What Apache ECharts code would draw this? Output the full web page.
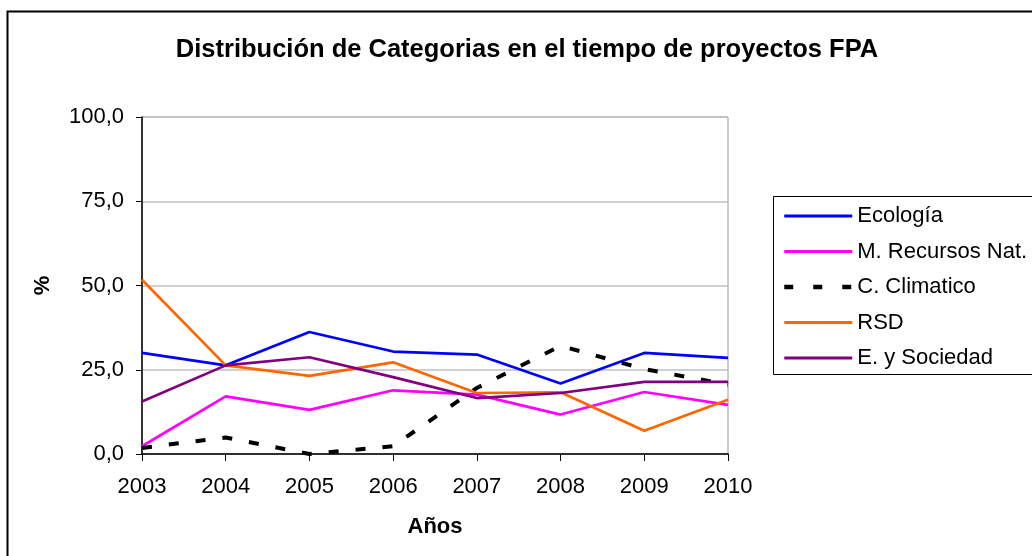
<!DOCTYPE html>
<html>
<head>
<meta charset="utf-8">
<script src="https://cdn.jsdelivr.net/npm/echarts@6/dist/echarts.min.js"></script>
<style>
html,body{margin:0;padding:0;background:#fff;}
#chart{width:1032px;height:556px;}
</style>
</head>
<body>
<div id="chart"></div>
<script>
var years = ['2003','2004','2005','2006','2007','2008','2009','2010'];
var ecologia = [30.0, 26.3, 36.2, 30.4, 29.5, 20.9, 30.0, 28.5];
var recursosNat = [2.3, 17.1, 13.1, 18.9, 17.6, 11.7, 18.4, 14.6];
var climatico = [1.8, 4.9, 0.0, 2.3, 19.6, 32.1, 25.2, 20.6];
var rsd = [51.7, 26.3, 23.2, 27.2, 18.1, 18.3, 6.9, 16.1];
var sociedad = [15.6, 26.3, 28.7, 22.8, 16.6, 18.1, 21.4, 21.4];
var seriesNames = ['Ecología', 'M. Recursos Nat.', 'C. Climatico', 'RSD', 'E. y Sociedad'];
var yTicks = [0, 25, 50, 75, 100];

var FONT = '"Liberation Sans", Arial, sans-serif';
var chart = echarts.init(document.getElementById('chart'), null, {renderer: 'canvas'});

function line(name, data, color, width, dash) {
  return {
    name: name, type: 'line', data: data, symbol: 'none', animation: false,
    lineStyle: {color: color, width: width, type: dash || 'solid', cap: 'butt'},
    itemStyle: {color: color}
  };
}

chart.setOption({
  animation: false,
  backgroundColor: '#fff',
  title: {
    text: 'Distribución de Categorias en el tiempo de proyectos FPA',
    left: 522, top: 32, textAlign: 'center',
    textStyle: {fontFamily: FONT, fontSize: 25.5, fontWeight: 'bold', color: '#000'}
  },
  graphic: [
    {type: 'rect', left: 5, top: 9, shape: {width: 1100, height: 600},
     style: {fill: 'none', stroke: '#000', lineWidth: 2}, silent: true, z: -1},
    {type: 'rect', left: 773, top: 196, shape: {width: 300, height: 178},
     style: {fill: '#fff', stroke: '#000', lineWidth: 1}, silent: true, z: -1}
  ],
  legend: {
    orient: 'vertical', left: 777, top: 200,
    itemWidth: 68, itemHeight: 22, itemGap: 13.5,
    itemStyle: {opacity: 0, borderWidth: 0},
    textStyle: {fontFamily: FONT, fontSize: 22, color: '#000', lineHeight: 22},
    data: [
      {name: seriesNames[0], lineStyle: {width: 3}},
      {name: seriesNames[1], lineStyle: {width: 3}},
      {name: seriesNames[2], lineStyle: {width: 4.5, type: [9, 20]}},
      {name: seriesNames[3], lineStyle: {width: 3}},
      {name: seriesNames[4], lineStyle: {width: 3}}
    ]
  },
  grid: {left: 142, right: 304, top: 117, bottom: 102, show: true,
         borderColor: '#999', borderWidth: 1, backgroundColor: 'transparent'},
  xAxis: {
    type: 'category', data: years, boundaryGap: false,
    name: 'Años', nameLocation: 'middle', nameGap: 62,
    nameTextStyle: {fontFamily: FONT, fontSize: 22, fontWeight: 'bold', color: '#000'},
    axisLine: {lineStyle: {color: '#000', width: 1.5}},
    axisTick: {show: true, length: 7, lineStyle: {color: '#000', width: 1}},
    axisLabel: {fontFamily: FONT, fontSize: 22, color: '#000', margin: 22},
    splitLine: {show: false}
  },
  yAxis: {
    type: 'value', min: yTicks[0], max: yTicks[yTicks.length - 1], interval: 25,
    name: '%', nameLocation: 'middle', nameGap: 88, nameRotate: 90,
    nameTextStyle: {fontFamily: FONT, fontSize: 22, fontWeight: 'bold', color: '#000'},
    axisLine: {show: true, lineStyle: {color: '#000', width: 1.5}},
    axisTick: {show: true, length: 6, lineStyle: {color: '#000', width: 1}},
    axisLabel: {fontFamily: FONT, fontSize: 22, color: '#000', margin: 18,
      formatter: function (v) { return v.toFixed(1).replace('.', ','); }},
    splitLine: {show: true, lineStyle: {color: '#c0c0c0', width: 1.5}}
  },
  series: [
    line(seriesNames[0], ecologia, '#0000ff', 2.7),
    line(seriesNames[1], recursosNat, '#ff00ff', 2.7),
    line(seriesNames[2], climatico, '#000000', 4, [10, 17]),
    line(seriesNames[3], rsd, '#ff6600', 2.7),
    line(seriesNames[4], sociedad, '#800080', 2.7)
  ]
});
</script>
</body>
</html>
